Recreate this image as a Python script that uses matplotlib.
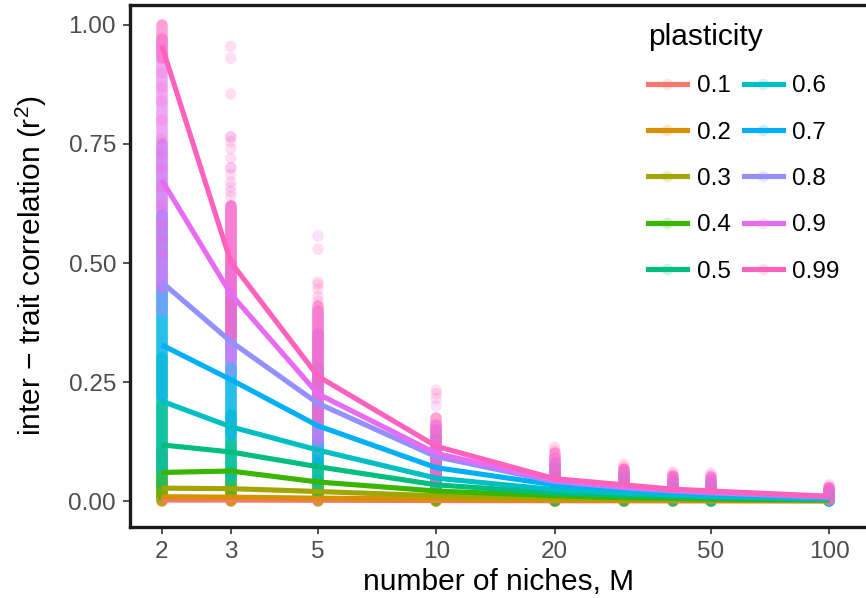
import matplotlib
matplotlib.use("Agg")
import matplotlib.pyplot as plt
from matplotlib.lines import Line2D
from matplotlib.legend_handler import HandlerTuple

plt.rcParams['font.family'] = ['Liberation Sans', 'DejaVu Sans']
plt.rcParams['mathtext.fontset'] = 'custom'
plt.rcParams['mathtext.rm'] = 'Liberation Sans'
plt.rcParams['mathtext.it'] = 'Liberation Sans:italic'

# ---------------- data ----------------
M_values = [2, 3, 5, 10, 20, 30, 40, 50, 100]
x_ticks = [2, 3, 5, 10, 20, 50, 100]
y_ticks = [0.0, 0.25, 0.5, 0.75, 1.0]
y_tick_labels = ["0.00", "0.25", "0.50", "0.75", "1.00"]
plasticity = ["0.1", "0.2", "0.3", "0.4", "0.5", "0.6", "0.7", "0.8", "0.9", "0.99"]
colors = ["#F8766D", "#D89000", "#A3A500", "#39B600", "#00BF7D",
          "#00BFC4", "#00B0F6", "#9590FF", "#E76BF3", "#FF62BC"]

# mean r^2 per plasticity at each M
mean_01 = [0.002, 0.002, 0.0015, 0.001, 0.0005, 0.0004, 0.0003, 0.0003, 0.0002]
mean_02 = [0.009, 0.008, 0.006, 0.004, 0.002, 0.0015, 0.001, 0.001, 0.0005]
mean_03 = [0.027, 0.026, 0.020, 0.011, 0.006, 0.004, 0.003, 0.002, 0.001]
mean_04 = [0.060, 0.063, 0.040, 0.021, 0.011, 0.007, 0.006, 0.004, 0.002]
mean_05 = [0.118, 0.103, 0.072, 0.034, 0.017, 0.012, 0.009, 0.007, 0.003]
mean_06 = [0.210, 0.156, 0.107, 0.048, 0.024, 0.017, 0.013, 0.010, 0.005]
mean_07 = [0.328, 0.255, 0.158, 0.070, 0.034, 0.024, 0.018, 0.014, 0.007]
mean_08 = [0.460, 0.335, 0.205, 0.093, 0.041, 0.028, 0.021, 0.017, 0.008]
mean_09 = [0.675, 0.435, 0.225, 0.100, 0.044, 0.030, 0.023, 0.019, 0.009]
mean_099 = [0.958, 0.502, 0.262, 0.115, 0.047, 0.034, 0.025, 0.021, 0.010]

# dense ranges of the replicate points (low / high) per plasticity at each M
low_01 = [0, 0, 0, 0, 0, 0, 0, 0, 0]
high_01 = [0.015, 0.008, 0.005, 0.004, 0.002, 0.0015, 0.001, 0.001, 0.0005]
low_02 = [0, 0, 0, 0, 0, 0, 0, 0, 0]
high_02 = [0.04, 0.02, 0.015, 0.01, 0.005, 0.004, 0.003, 0.003, 0.001]
low_03 = [0.003, 0.003, 0.002, 0, 0, 0, 0, 0, 0]
high_03 = [0.10, 0.06, 0.045, 0.025, 0.014, 0.010, 0.008, 0.006, 0.003]
low_04 = [0.012, 0.012, 0.008, 0.003, 0.001, 0, 0, 0, 0]
high_04 = [0.20, 0.12, 0.08, 0.045, 0.025, 0.018, 0.014, 0.012, 0.006]
low_05 = [0.035, 0.03, 0.02, 0.006, 0.003, 0.002, 0.002, 0.001, 0]
high_05 = [0.30, 0.18, 0.13, 0.07, 0.04, 0.03, 0.022, 0.018, 0.010]
low_06 = [0.07, 0.05, 0.04, 0.012, 0.006, 0.004, 0.003, 0.003, 0.001]
high_06 = [0.45, 0.28, 0.20, 0.10, 0.05, 0.04, 0.03, 0.025, 0.015]
low_07 = [0.22, 0.14, 0.08, 0.02, 0.010, 0.006, 0.005, 0.004, 0.002]
high_07 = [0.60, 0.42, 0.28, 0.13, 0.07, 0.05, 0.04, 0.035, 0.020]
low_08 = [0.40, 0.27, 0.11, 0.035, 0.012, 0.010, 0.008, 0.006, 0.003]
high_08 = [0.75, 0.50, 0.35, 0.15, 0.08, 0.06, 0.045, 0.042, 0.024]
low_09 = [0.45, 0.30, 0.13, 0.04, 0.015, 0.012, 0.010, 0.008, 0.003]
high_09 = [0.97, 0.62, 0.40, 0.16, 0.09, 0.065, 0.05, 0.047, 0.027]
low_099 = [0.93, 0.35, 0.17, 0.05, 0.02, 0.015, 0.012, 0.010, 0.004]
high_099 = [1.00, 0.62, 0.41, 0.175, 0.10, 0.068, 0.053, 0.050, 0.028]

# isolated (sparse) replicate points
sparse_M_099 = [2, 2, 2, 2, 2, 2, 2, 2, 2, 2, 2, 2,
                3, 3, 3, 3, 3, 3, 3, 3, 3, 3, 3, 3,
                5, 5, 5, 5, 5, 5,
                10, 10, 10, 20, 20, 30, 30, 40, 40, 50, 100, 100]
sparse_r2_099 = [0.90, 0.87, 0.84, 0.80, 0.76, 0.73, 0.70, 0.66, 0.62, 0.58, 0.55, 0.52,
                 0.955, 0.93, 0.855, 0.765, 0.755, 0.74, 0.72, 0.70, 0.685, 0.67, 0.65, 0.64,
                 0.529, 0.46, 0.455, 0.445, 0.43, 0.42,
                 0.233, 0.225, 0.215, 0.113, 0.107, 0.077, 0.072, 0.061, 0.057, 0.055, 0.034, 0.031]
sparse_M_09 = [3, 3, 3, 5, 10, 50]
sparse_r2_09 = [0.765, 0.70, 0.66, 0.557, 0.20, 0.059]

means = [mean_01, mean_02, mean_03, mean_04, mean_05, mean_06, mean_07, mean_08, mean_09, mean_099]
lows = [low_01, low_02, low_03, low_04, low_05, low_06, low_07, low_08, low_09, low_099]
highs = [high_01, high_02, high_03, high_04, high_05, high_06, high_07, high_08, high_09, high_099]

# ---------------- figure ----------------
W, H = 866, 598
fig = plt.figure(figsize=(W / 100, H / 100), dpi=100)
ax = fig.add_axes([130 / W, 71 / H, 738 / W, 522 / H])
ax.set_xscale('log')

pt_size = 8.3  # marker diameter in points

# dense replicate columns
for c, lo, hi in zip(colors, lows, highs):
    lc = ax.vlines(M_values, lo, hi, colors=c, linewidth=pt_size, alpha=0.6, zorder=2)
    lc.set_capstyle('round')

# sparse replicate points
ax.scatter(sparse_M_09, sparse_r2_09, s=pt_size ** 2, color=colors[8], alpha=0.2,
           edgecolors='none', zorder=2)
ax.scatter(sparse_M_099, sparse_r2_099, s=pt_size ** 2, color=colors[9], alpha=0.2,
           edgecolors='none', zorder=2)

# mean lines
for c, m in zip(colors, means):
    ax.plot(M_values, m, color=c, linewidth=3.7, solid_capstyle='butt', zorder=3)

ax.set_xlim(1.662, 125.5)
ax.set_ylim(-0.0546, 1.042)
ax.set_xticks(x_ticks)
ax.set_xticklabels([str(t) for t in x_ticks])
ax.xaxis.set_minor_locator(matplotlib.ticker.NullLocator())
ax.set_yticks(y_ticks)
ax.set_yticklabels(y_tick_labels)

for s in ax.spines.values():
    s.set_linewidth(2.4)
    s.set_color('#1a1a1a')

ax.tick_params(axis='both', length=5, width=1.2, color='#333333',
               labelcolor='#4d4d4d', labelsize=17.5, pad=5)

ax.set_xlabel("number of niches, M", fontsize=21.5, labelpad=4)
ax.set_ylabel("inter \u2212 trait correlation (r$^{2}$)", fontsize=21.5, labelpad=14)

# legend
handles = []
for c in colors:
    handles.append((Line2D([], [], marker='o', ls='', color=c, alpha=0.2, markersize=pt_size,
                           markeredgewidth=0),
                    Line2D([], [], color=c, lw=3.7)))
leg = ax.legend(handles, plasticity, ncol=2, loc='upper left',
                bbox_to_anchor=(648 / W, 1 - 23 / H), bbox_transform=fig.transFigure,
                frameon=False, title='plasticity', alignment='left',
                fontsize=17.5, title_fontsize=21.5, handlelength=1.6, handletextpad=0.4,
                labelspacing=1.0, columnspacing=0.55, borderpad=0, borderaxespad=0,
                handler_map={tuple: HandlerTuple(ndivide=1)})

fig.savefig("out.png", dpi=100)
